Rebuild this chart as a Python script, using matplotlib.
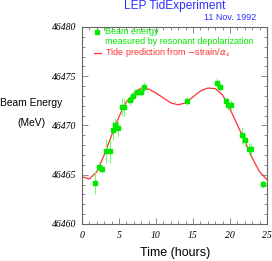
import matplotlib
matplotlib.use("Agg")
import matplotlib.pyplot as plt
from matplotlib.lines import Line2D

# measured beam energy (time in hours, energy in MeV)
meas_t = [1.76, 2.34, 2.7, 3.24, 3.78, 4.14, 4.46, 4.9, 5.36, 5.67,
          6.49, 6.94, 7.39, 7.93, 8.38, 14.2, 18.2, 18.7, 19.46, 19.77,
          20.1, 21.6, 22.03, 22.5, 22.8, 24.5]
meas_e = [46464.2, 46465.8, 46465.6, 46467.4, 46467.4, 46469.5, 46470.05, 46469.7, 46471.9, 46471.9,
          46472.6, 46473.0, 46473.4, 46473.4, 46473.9, 46472.5, 46474.3, 46473.9, 46472.5, 46472.1,
          46472.1, 46469.0, 46468.5, 46467.6, 46467.6, 46464.1]
meas_err = [1.2, 0.5, 0.4, 1.2, 1.2, 1.0, 0.7, 0.75, 0.9, 0.9,
            0.5, 0.5, 0.4, 0.4, 0.5, 0.4, 0.5, 0.4, 0.4, 0.5,
            0.5, 0.85, 0.6, 0.6, 0.6, 0.4]

# tide prediction
tide_t = list(range(0, 26))
tide_e = [46464.8, 46464.57, 46465.3, 46467.0, 46469.0, 46470.9, 46472.4, 46473.3, 46473.8, 46473.7,
          46473.3, 46472.8, 46472.3, 46472.1, 46472.3, 46472.9, 46473.5, 46473.8, 46473.75, 46473.1,
          46471.7, 46470.05, 46468.4, 46466.7, 46465.3, 46464.5]

green = "#00e800"
red = "#ff3030"
blue = "#3030ff"
W, H = 272, 261


def fx(px):
    return px / W


def fy(py):
    return 1 - py / H


fig = plt.figure(figsize=(2.72, 2.61), dpi=100)
ax = fig.add_axes([fx(82), fy(224), 185/W, 197/H])

ax.plot(tide_t, tide_e, color=red, lw=0.9)
ax.errorbar(meas_t, meas_e, yerr=meas_err, fmt="s", ms=2.8, color=green,
            ecolor="#70ff70", elinewidth=0.8, capsize=0)

ax.set_xlim(0, 25)
ax.set_ylim(46460, 46480)
ax.set_xticks([0, 5, 10, 15, 20, 25])
ax.set_yticks([46460, 46465, 46470, 46475, 46480])
ax.set_xticks(range(0, 26), minor=True)
ax.set_yticks(range(46460, 46481), minor=True)
ax.tick_params(which="both", direction="in", top=True, right=True, color="#777777", width=0.6)
ax.tick_params(which="major", length=4)
ax.tick_params(which="minor", length=2)
ax.tick_params(axis="y", pad=4)
ax.tick_params(axis="x", pad=5)
for s in ax.spines.values():
    s.set_color("#666666")
    s.set_linewidth(0.8)
for lab in ax.get_xticklabels() + ax.get_yticklabels():
    lab.set_family("Liberation Serif")
    lab.set_style("italic")
    lab.set_fontsize(7)

# legend, placed by hand
sans = "Liberation Sans"
fig.add_artist(Line2D([fx(96.5)], [fy(32.5)], marker="s", ms=2.6, color=green, ls="none"))
fig.add_artist(Line2D([fx(94), fx(101)], [fy(53), fy(53)], color=red, lw=0.9))
fig.text(fx(105), fy(32), "Beam energy", color=green, va="center", fontsize=6.5, family=sans)
fig.text(fx(105), fy(41), "measured by resonant depolarization", color=green, va="center",
         fontsize=6.5, family=sans)
fig.text(fx(105), fy(53), r"Tide prediction from $-$strain/$\alpha_s$", color=red, va="center",
         fontsize=6.5, family=sans)

fig.text(fx(175), fy(6), "LEP TidExperiment", color=blue, ha="center", va="center",
         fontsize=8.6, family=sans)
fig.text(fx(256), fy(17), "11 Nov. 1992", color=blue, ha="right", va="center",
         fontsize=6.5, family=sans)
fig.text(fx(31), fy(103), "Beam Energy", ha="center", va="center", fontsize=7.4, family=sans)
fig.text(fx(31), fy(123), "(MeV)", ha="center", va="center", fontsize=7.4, family=sans)
fig.text(fx(175), fy(253), "Time (hours)", ha="center", va="center", fontsize=9, family=sans)

fig.savefig("out.png", dpi=100)
